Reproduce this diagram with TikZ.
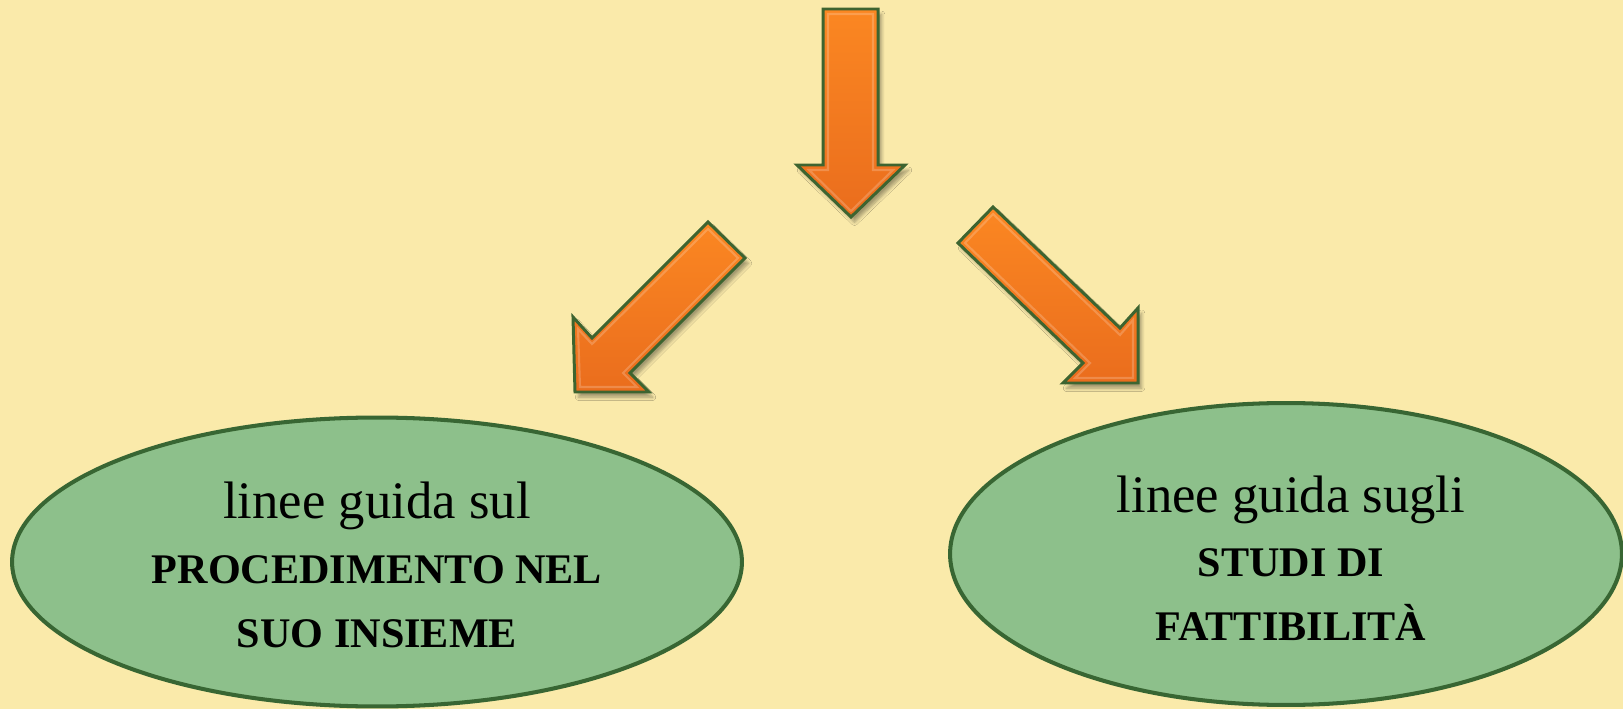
\documentclass[tikz,border=0pt]{standalone}
\usepackage{fontspec}
\setmainfont{Liberation Serif}
\usetikzlibrary{shapes.geometric,shadows.blur}

\definecolor{paper}{HTML}{FAEAAA}
\definecolor{leaf}{HTML}{8DC08B}
\definecolor{leafedge}{HTML}{386633}
\definecolor{orangetop}{HTML}{FB8722}
\definecolor{orangemid}{HTML}{F8811F}
\definecolor{orangebot}{HTML}{EA6D1D}
\definecolor{arrowedge}{HTML}{3D6430}

\tikzset{
  bigarrow/.style={draw=arrowedge, line width=1.7pt, line join=miter,
    top color=orangetop, middle color=orangemid, bottom color=orangebot,
    blur shadow={shadow xshift=2pt, shadow yshift=-3pt,
      shadow blur steps=6, shadow opacity=35}},
  bevel/.style={draw=white, draw opacity=0.2, line width=1.2pt, line join=miter},
  bubble/.style={ellipse, draw=leafedge, fill=leaf, line width=2.3pt, inner sep=0pt},
  plainline/.style={anchor=base, font=\fontsize{30}{36}\selectfont},
  boldline/.style={anchor=base, font=\fontsize{24}{36}\selectfont\bfseries},
}

\begin{document}
\begin{tikzpicture}[x=0.02cm, y=-0.02cm]
  \useasboundingbox (0,0) rectangle (1623,709);
  \fill[paper] (0,0) rectangle (1623,709);

  % downward arrow at the top
  \path[bigarrow] (823,9) -- (878,9) -- (878,165) -- (905,165) -- (851,217)
    -- (797,165) -- (823,165) -- cycle;
  \draw[bevel] (828,14) -- (873,14) -- (873,170) -- (893,170) -- (851,211)
    -- (809,170) -- (828,170) -- cycle;

  % arrow pointing down-left
  \path[bigarrow] (708,222) -- (745,258) -- (630,373) -- (649,392) -- (575,392)
    -- (573,317) -- (592,338) -- cycle;
  \draw[bevel] (708,229) -- (738,258) -- (623,373) -- (637,387) -- (580,387)
    -- (578,329) -- (592,344) -- cycle;

  % arrow pointing down-right
  \path[bigarrow] (993,207) -- (1120,328) -- (1138,308) -- (1138,383)
    -- (1063,383) -- (1083,363) -- (958,243) -- cycle;
  \draw[bevel] (993,214) -- (1120,335) -- (1133,320) -- (1133,378)
    -- (1075,378) -- (1090,363) -- (965,243) -- cycle;

  % left bubble
  \node[bubble, minimum width=14.6cm, minimum height=5.78cm] (left) at (377,562) {};
  \node[plainline] (leftA) at (377,519) {linee guida sul};
  \node[boldline]  (leftB) at (377,583) {PROCEDIMENTO NEL};
  \node[boldline]  (leftC) at (377,647) {SUO INSIEME};

  % right bubble
  \node[bubble, minimum width=13.44cm, minimum height=6.04cm] (right) at (1286,554) {};
  \node[plainline] (rightA) at (1291,512) {linee guida sugli};
  \node[boldline]  (rightB) at (1291,576) {STUDI DI};
  \node[boldline]  (rightC) at (1291,640) {FATTIBILITÀ};
\end{tikzpicture}
\end{document}
